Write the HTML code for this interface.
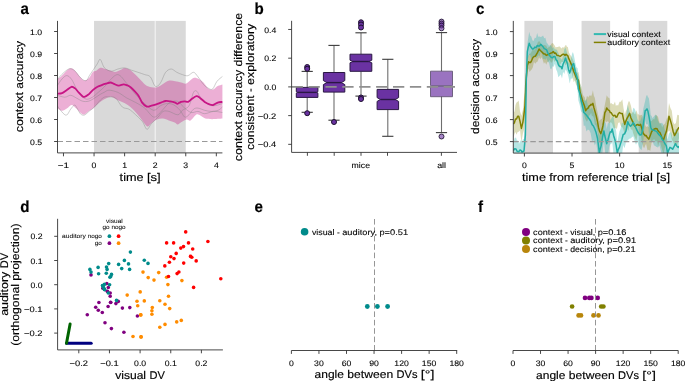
<!DOCTYPE html>
<html><head><meta charset="utf-8"><style>
html,body{margin:0;padding:0;background:#fff;width:685px;height:381px;overflow:hidden}
svg{display:block;will-change:transform}
text{font-family:"Liberation Sans", sans-serif;text-rendering:geometricPrecision;stroke:#000;stroke-width:0.15px}
</style></head><body>
<svg width="685" height="381" viewBox="0 0 685 381">
<rect x="94.05" y="20.9" width="91.71" height="132" fill="#d9d9d9"/>
<line x1="155.19" y1="20.9" x2="155.19" y2="152.9" stroke="#f6f6f6" stroke-width="1.0"/>
<path d="M57.4,79 C58.18,78.4 60.33,76.98 62.1,75.4 C63.87,73.82 66.43,70.68 68,69.5 C69.57,68.32 70.32,68.1 71.5,68.3 C72.68,68.5 73.53,69.12 75.1,70.7 C76.67,72.28 79.33,76.15 80.9,77.8 C82.47,79.45 83.12,80.6 84.5,80.6 C85.88,80.6 87.82,79.25 89.2,77.8 C90.58,76.35 91.62,73.08 92.8,71.9 C93.98,70.72 95.12,71.37 96.3,70.7 C97.48,70.03 98.52,68.22 99.9,67.9 C101.28,67.58 103.03,68.42 104.6,68.8 C106.17,69.18 107.53,69.68 109.3,70.2 C111.07,70.72 113.43,71.9 115.2,71.9 C116.97,71.9 118.32,70.87 119.9,70.2 C121.48,69.53 122.92,67.9 124.7,67.9 C126.48,67.9 128.88,69.13 130.6,70.2 C132.32,71.27 133.48,72.83 135,74.3 C136.52,75.77 137.93,77.23 139.7,79 C141.47,80.77 143.63,83.53 145.6,84.9 C147.57,86.27 149.53,86.82 151.5,87.2 C153.47,87.58 155.43,87.78 157.4,87.2 C159.37,86.62 161.32,84.8 163.3,83.7 C165.28,82.6 167.32,81 169.3,80.6 C171.28,80.2 173.23,80.98 175.2,81.3 C177.17,81.62 179.33,82.1 181.1,82.5 C182.87,82.9 184.43,83.9 185.8,83.7 C187.17,83.5 187.92,82.28 189.3,81.3 C190.68,80.32 192.52,78.18 194.1,77.8 C195.68,77.42 197.23,78.22 198.8,79 C200.37,79.78 201.93,80.93 203.5,82.5 C205.07,84.07 206.62,87.22 208.2,88.4 C209.78,89.58 211.42,89.98 213,89.6 C214.58,89.22 216.13,86.97 217.7,86.1 C219.27,85.23 221.62,84.68 222.4,84.4 L222.4,118.6 C220.7,118.7 215.05,119.2 212.2,119.2 C209.35,119.2 207.27,119.2 205.3,118.6 C203.33,118 201.88,116.27 200.4,115.6 C198.92,114.93 198.05,113.78 196.4,114.6 C194.75,115.42 192.13,119.67 190.5,120.5 C188.87,121.33 188.23,119.27 186.6,119.6 C184.97,119.93 182.18,121.68 180.7,122.5 C179.22,123.32 178.7,124.5 177.7,124.5 C176.7,124.5 176.18,123.17 174.7,122.5 C173.22,121.83 170.77,121.15 168.8,120.5 C166.83,119.85 164.87,118.75 162.9,118.6 C160.93,118.45 158.97,118.78 157,119.6 C155.03,120.42 152.58,122.35 151.1,123.5 C149.62,124.65 149.08,126.33 148.1,126.5 C147.12,126.67 146.67,126.15 145.2,124.5 C143.73,122.85 141.27,119.07 139.3,116.6 C137.33,114.13 135.38,111.67 133.4,109.7 C131.42,107.73 129.38,106.12 127.4,104.8 C125.42,103.48 123.47,102.78 121.5,101.8 C119.53,100.82 117.57,99.72 115.6,98.9 C113.63,98.08 112,96.58 109.7,96.9 C107.4,97.22 104.43,99 101.8,100.8 C99.17,102.6 96,106.03 93.9,107.7 C91.8,109.37 90.77,109.68 89.2,110.8 C87.63,111.92 85.87,114 84.5,114.4 C83.13,114.8 82.37,114.18 81,113.2 C79.63,112.22 77.88,109.88 76.3,108.5 C74.72,107.12 73.08,104.9 71.5,104.9 C69.92,104.9 68.37,107.52 66.8,108.5 C65.23,109.48 63.67,110.8 62.1,110.8 C60.53,110.8 58.18,108.88 57.4,108.5 Z" fill="#c71585" fill-opacity="0.34"/>
<path d="M57.4,80 C57.65,79.6 57.67,78.98 58.9,77.6 C60.13,76.22 62.98,73.18 64.8,71.7 C66.62,70.22 68.15,68.87 69.8,68.7 C71.45,68.53 73.23,69.55 74.7,70.7 C76.17,71.85 77.28,74.13 78.6,75.6 C79.92,77.07 81.28,78.68 82.6,79.5 C83.92,80.32 85.37,81.15 86.5,80.5 C87.63,79.85 88.25,77.4 89.4,75.6 C90.55,73.8 92.08,71.67 93.4,69.7 C94.72,67.73 96.15,65.5 97.3,63.8 C98.45,62.1 99.1,58.82 100.3,59.5 C101.5,60.18 102.68,65.95 104.5,67.9 C106.32,69.85 108.97,71.02 111.2,71.2 C113.43,71.38 115.67,69.55 117.9,69 C120.13,68.45 122.37,67.72 124.6,67.9 C126.83,68.08 129.07,69.37 131.3,70.1 C133.53,70.83 135.77,71.55 138,72.3 C140.23,73.05 142.65,73.85 144.7,74.6 C146.75,75.35 148.63,74.95 150.3,76.8 C151.97,78.65 153.4,84.22 154.7,85.7 C156,87.18 156.98,86.43 158.1,85.7 C159.22,84.97 160.15,83.53 161.4,81.3 C162.65,79.07 163.97,74.35 165.6,72.3 C167.23,70.25 169.33,69 171.2,69 C173.07,69 174.95,71.37 176.8,72.3 C178.65,73.23 180.45,74.03 182.3,74.6 C184.15,75.17 186.03,76.08 187.9,75.7 C189.77,75.32 191.82,72.12 193.5,72.3 C195.18,72.48 196.32,74.75 198,76.8 C199.68,78.85 201.93,82.73 203.6,84.6 C205.27,86.47 206.52,87.25 208,88 C209.48,88.75 211,90.22 212.5,89.1 C214,87.98 215.35,83.4 217,81.3 C218.65,79.2 221.5,77.3 222.4,76.5" fill="none" stroke="#808080" stroke-width="0.75" stroke-linejoin="round" stroke-opacity="0.5"/>
<path d="M57.4,106 C58.32,107.17 61.33,111.5 62.9,113 C64.47,114.5 65.5,115.65 66.8,115 C68.1,114.35 69.38,110.75 70.7,109.1 C72.02,107.45 73.55,105.1 74.7,105.1 C75.85,105.1 76.62,107.62 77.6,109.1 C78.58,110.58 79.45,113.02 80.6,114 C81.75,114.98 83.03,115.5 84.5,115 C85.97,114.5 87.75,112.32 89.4,111 C91.05,109.68 92.75,108.73 94.4,107.1 C96.05,105.47 97.67,102.85 99.3,101.2 C100.93,99.55 102.6,97.92 104.2,97.2 C105.8,96.48 107,96.77 108.9,96.9 C110.8,97.03 113.37,96.32 115.6,98 C117.83,99.68 120.07,105.13 122.3,107 C124.53,108.87 126.77,107.9 129,109.2 C131.23,110.5 133.47,112.75 135.7,114.8 C137.93,116.85 140.53,119.08 142.4,121.5 C144.27,123.92 145.4,128.93 146.9,129.3 C148.4,129.67 149.53,125.75 151.4,123.7 C153.27,121.65 156.17,119.03 158.1,117 C160.03,114.97 161.2,112.43 163,111.5 C164.8,110.57 166.42,110.85 168.9,111.4 C171.38,111.95 175.67,114.98 177.9,114.8 C180.13,114.62 180.45,111.8 182.3,110.3 C184.15,108.8 187.13,108.78 189,105.8 C190.87,102.82 192.18,94.82 193.5,92.4 C194.82,89.98 195.78,90.55 196.9,91.3 C198.02,92.05 198.53,94.85 200.2,96.9 C201.87,98.95 204.67,102.12 206.9,103.6 C209.13,105.08 211.02,105.8 213.6,105.8 C216.18,105.8 220.93,103.97 222.4,103.6" fill="none" stroke="#808080" stroke-width="0.75" stroke-linejoin="round" stroke-opacity="0.5"/>
<path d="M57.4,85.4 C58.17,84.33 60.43,80.63 62,79 C63.57,77.37 65.18,75.52 66.8,75.6 C68.42,75.68 70.05,77.2 71.7,79.5 C73.35,81.8 75.22,86.77 76.7,89.4 C78.18,92.03 78.97,93.67 80.6,95.3 C82.23,96.93 84.53,98.88 86.5,99.2 C88.47,99.52 90.43,98.35 92.4,97.2 C94.37,96.05 96.33,94 98.3,92.3 C100.27,90.6 102.43,88.83 104.2,87 C105.97,85.17 106.62,83.37 108.9,81.3 C111.18,79.23 114.92,74.23 117.9,74.6 C120.88,74.97 123.83,80.15 126.8,83.5 C129.77,86.85 132.72,91.35 135.7,94.7 C138.68,98.05 141.72,101 144.7,103.6 C147.68,106.2 151,109.93 153.6,110.3 C156.2,110.67 158.12,106.92 160.3,105.8 C162.48,104.68 164.52,103.78 166.7,103.6 C168.88,103.42 171.17,103.58 173.4,104.7 C175.63,105.82 178.23,108.25 180.1,110.3 C181.97,112.35 183.12,116.25 184.6,117 C186.08,117.75 187.52,116.1 189,114.8 C190.48,113.5 192,110.32 193.5,109.2 C195,108.08 196.13,107.92 198,108.1 C199.87,108.28 202.47,109.75 204.7,110.3 C206.93,110.85 209.17,111.4 211.4,111.4 C213.63,111.4 216.27,111.03 218.1,110.3 C219.93,109.57 221.68,107.55 222.4,107" fill="none" stroke="#808080" stroke-width="0.75" stroke-linejoin="round" stroke-opacity="0.5"/>
<path d="M57.4,95.3 C58.63,95.62 62.58,97.2 64.8,97.2 C67.02,97.2 68.72,95.13 70.7,95.3 C72.68,95.47 74.72,97.22 76.7,98.2 C78.68,99.18 80.63,100.7 82.6,101.2 C84.57,101.7 86.53,101.7 88.5,101.2 C90.47,100.7 92.43,99.35 94.4,98.2 C96.37,97.05 98.67,95.28 100.3,94.3 C101.93,93.32 102.77,92.98 104.2,92.3 C105.63,91.62 106.62,90.18 108.9,90.2 C111.18,90.22 114.92,91.1 117.9,92.4 C120.88,93.7 123.83,96.32 126.8,98 C129.77,99.68 132.72,100.82 135.7,102.5 C138.68,104.18 141.72,105.68 144.7,108.1 C147.68,110.52 151,116.27 153.6,117 C156.2,117.73 158.23,114.33 160.3,112.5 C162.37,110.67 164.22,107.75 166,106 C167.78,104.25 169.02,102.77 171,102 C172.98,101.23 175.63,100.38 177.9,101.4 C180.17,102.42 182.37,106.25 184.6,108.1 C186.83,109.95 189.07,111.95 191.3,112.5 C193.53,113.05 195.77,111.2 198,111.4 C200.23,111.6 202.1,113.7 204.7,113.7 C207.3,113.7 210.65,111.6 213.6,111.4 C216.55,111.2 220.93,112.32 222.4,112.5" fill="none" stroke="#808080" stroke-width="0.75" stroke-linejoin="round" stroke-opacity="0.5"/>
<path d="M57.4,93.8 C58.18,93.68 60.53,93.72 62.1,93.1 C63.67,92.48 65.23,91.15 66.8,90.1 C68.37,89.05 70.12,87.08 71.5,86.8 C72.88,86.52 73.92,87.47 75.1,88.4 C76.28,89.33 77.42,91.13 78.6,92.4 C79.78,93.67 81.22,95.25 82.2,96 C83.18,96.75 83.52,97.1 84.5,96.9 C85.48,96.7 86.72,95.93 88.1,94.8 C89.48,93.67 91.23,91.43 92.8,90.1 C94.37,88.77 95.93,87.67 97.5,86.8 C99.07,85.93 100.82,85.42 102.2,84.9 C103.58,84.38 104.42,84.1 105.8,83.7 C107.18,83.3 109.13,82.47 110.5,82.5 C111.87,82.53 112.62,83.38 114,83.9 C115.38,84.42 117.22,85.52 118.8,85.6 C120.38,85.68 122.13,84.45 123.5,84.4 C124.87,84.35 125.82,84.83 127,85.3 C128.18,85.77 129.22,86.1 130.6,87.2 C131.98,88.3 133.93,90.4 135.3,91.9 C136.67,93.4 137.67,94.42 138.8,96.2 C139.93,97.98 140.77,100.87 142.1,102.6 C143.43,104.33 145.23,106.08 146.8,106.6 C148.37,107.12 149.92,106.08 151.5,105.7 C153.08,105.32 154.72,104.82 156.3,104.3 C157.88,103.78 159.43,103.15 161,102.6 C162.57,102.05 164.13,101.2 165.7,101 C167.27,100.8 168.82,101.13 170.4,101.4 C171.98,101.67 174.02,102.2 175.2,102.6 C176.38,103 176.52,103.92 177.5,103.8 C178.48,103.68 179.92,102.3 181.1,101.9 C182.28,101.5 183.42,101.4 184.6,101.4 C185.78,101.4 187.02,102.28 188.2,101.9 C189.38,101.52 190.33,100.05 191.7,99.1 C193.07,98.15 195.02,96.4 196.4,96.2 C197.78,96 198.62,96.95 200,97.9 C201.38,98.85 203.13,100.83 204.7,101.9 C206.27,102.97 208.02,103.78 209.4,104.3 C210.78,104.82 211.62,105.28 213,105 C214.38,104.72 216.13,103.12 217.7,102.6 C219.27,102.08 221.62,102.02 222.4,101.9" fill="none" stroke="#c71585" stroke-width="1.8" stroke-linejoin="round"/>
<line x1="57.5" y1="141.5" x2="222.4" y2="141.5" stroke="#999999" stroke-width="1.2" stroke-dasharray="5.5 3"/>
<line x1="57.5" y1="20.9" x2="57.5" y2="152.9" stroke="#333333" stroke-width="0.9"/>
<line x1="57.5" y1="152.9" x2="222.4" y2="152.9" stroke="#333333" stroke-width="0.9"/>
<line x1="54.1" y1="141.5" x2="57.5" y2="141.5" stroke="#333333" stroke-width="0.9"/>
<text x="30.11" y="144.55" font-size="7.98" textLength="12.09" lengthAdjust="spacingAndGlyphs" fill="#000" style="stroke-width:0.1px">0.5</text>
<line x1="54.1" y1="119.5" x2="57.5" y2="119.5" stroke="#333333" stroke-width="0.9"/>
<text x="30.11" y="122.55" font-size="7.98" textLength="12.09" lengthAdjust="spacingAndGlyphs" fill="#000" style="stroke-width:0.1px">0.6</text>
<line x1="54.1" y1="97.5" x2="57.5" y2="97.5" stroke="#333333" stroke-width="0.9"/>
<text x="30.11" y="100.55" font-size="7.98" textLength="12.09" lengthAdjust="spacingAndGlyphs" fill="#000" style="stroke-width:0.1px">0.7</text>
<line x1="54.1" y1="75.5" x2="57.5" y2="75.5" stroke="#333333" stroke-width="0.9"/>
<text x="30.11" y="78.55" font-size="7.98" textLength="12.09" lengthAdjust="spacingAndGlyphs" fill="#000" style="stroke-width:0.1px">0.8</text>
<line x1="54.1" y1="53.5" x2="57.5" y2="53.5" stroke="#333333" stroke-width="0.9"/>
<text x="30.11" y="56.55" font-size="7.98" textLength="12.09" lengthAdjust="spacingAndGlyphs" fill="#000" style="stroke-width:0.1px">0.9</text>
<line x1="54.1" y1="31.5" x2="57.5" y2="31.5" stroke="#333333" stroke-width="0.9"/>
<text x="30.11" y="34.55" font-size="7.98" textLength="12.09" lengthAdjust="spacingAndGlyphs" fill="#000" style="stroke-width:0.1px">1.0</text>
<line x1="63.48" y1="152.9" x2="63.48" y2="156.3" stroke="#333333" stroke-width="0.9"/>
<text x="57.88" y="167.9" font-size="7.98" textLength="11.2" lengthAdjust="spacingAndGlyphs" fill="#000" style="stroke-width:0.1px">−1</text>
<line x1="94.05" y1="152.9" x2="94.05" y2="156.3" stroke="#333333" stroke-width="0.9"/>
<text x="91.63" y="167.9" font-size="7.98" textLength="4.84" lengthAdjust="spacingAndGlyphs" fill="#000" style="stroke-width:0.1px">0</text>
<line x1="124.62" y1="152.9" x2="124.62" y2="156.3" stroke="#333333" stroke-width="0.9"/>
<text x="122.2" y="167.9" font-size="7.98" textLength="4.84" lengthAdjust="spacingAndGlyphs" fill="#000" style="stroke-width:0.1px">1</text>
<line x1="155.19" y1="152.9" x2="155.19" y2="156.3" stroke="#333333" stroke-width="0.9"/>
<text x="152.77" y="167.9" font-size="7.98" textLength="4.84" lengthAdjust="spacingAndGlyphs" fill="#000" style="stroke-width:0.1px">2</text>
<line x1="185.76" y1="152.9" x2="185.76" y2="156.3" stroke="#333333" stroke-width="0.9"/>
<text x="183.34" y="167.9" font-size="7.98" textLength="4.84" lengthAdjust="spacingAndGlyphs" fill="#000" style="stroke-width:0.1px">3</text>
<line x1="216.33" y1="152.9" x2="216.33" y2="156.3" stroke="#333333" stroke-width="0.9"/>
<text x="213.91" y="167.9" font-size="7.98" textLength="4.84" lengthAdjust="spacingAndGlyphs" fill="#000" style="stroke-width:0.1px">4</text>
<text x="119.64" y="180.7" font-size="11.13" textLength="23.95" lengthAdjust="spacingAndGlyphs" fill="#000">time</text>
<text x="146.96" y="180.7" font-size="11.13" textLength="13.79" lengthAdjust="spacingAndGlyphs" fill="#000">[s]</text>
<g transform="translate(23.4,86.6) rotate(-90)">
<text x="-45.67" y="0" font-size="11.13" textLength="40.14" lengthAdjust="spacingAndGlyphs">context</text>
<text x="-2.16" y="0" font-size="11.13" textLength="47.82" lengthAdjust="spacingAndGlyphs">accuracy</text>
</g>
<text transform="translate(20.4,13.6) scale(1,1.06)" font-size="15.12" font-weight="bold" stroke="#000" stroke-width="0.3">a</text>
<line x1="307.2" y1="71.4" x2="307.2" y2="87.4" stroke="#6e6e6e" stroke-width="1.1"/>
<line x1="307.2" y1="97.4" x2="307.2" y2="112.3" stroke="#6e6e6e" stroke-width="1.1"/>
<line x1="301.6" y1="71.4" x2="312.8" y2="71.4" stroke="#3a3a3a" stroke-width="1.1"/>
<line x1="301.6" y1="112.3" x2="312.8" y2="112.3" stroke="#3a3a3a" stroke-width="1.1"/>
<g>
<polygon points="296.3,87.4 317.9,87.4 317.9,91.7 316.7,92.4 317.9,93.1 317.9,97.4 296.3,97.4 296.3,93.1 297.5,92.4 296.3,91.7" fill="#6a32a2" stroke="#2a1744" stroke-width="1" stroke-linejoin="miter"/>
<line x1="297.5" y1="92.4" x2="316.7" y2="92.4" stroke="#2a1744" stroke-width="1.4"/>
</g>
<circle cx="307.2" cy="67" r="2.5" fill="#6a32a2" stroke="#1c0f2e" stroke-width="1.0"/>
<circle cx="307.2" cy="68.8" r="2.5" fill="#6a32a2" stroke="#1c0f2e" stroke-width="1.0"/>
<circle cx="307.2" cy="113.2" r="2.5" fill="#6a32a2" stroke="#1c0f2e" stroke-width="1.0"/>
<line x1="334" y1="45.4" x2="334" y2="72.5" stroke="#6e6e6e" stroke-width="1.1"/>
<line x1="334" y1="92.1" x2="334" y2="120.2" stroke="#6e6e6e" stroke-width="1.1"/>
<line x1="328.4" y1="45.4" x2="339.6" y2="45.4" stroke="#3a3a3a" stroke-width="1.1"/>
<line x1="328.4" y1="120.2" x2="339.6" y2="120.2" stroke="#3a3a3a" stroke-width="1.1"/>
<g>
<polygon points="323.4,72.5 344.8,72.5 344.8,80.6 341.3,82.6 344.8,84.6 344.8,92.1 323.4,92.1 323.4,84.6 326.9,82.6 323.4,80.6" fill="#6a32a2" stroke="#2a1744" stroke-width="1" stroke-linejoin="miter"/>
<line x1="326.9" y1="82.6" x2="341.3" y2="82.6" stroke="#2a1744" stroke-width="1.4"/>
</g>
<circle cx="334" cy="122" r="2.5" fill="#6a32a2" stroke="#1c0f2e" stroke-width="1.0"/>
<line x1="361" y1="32.8" x2="361" y2="54.2" stroke="#6e6e6e" stroke-width="1.1"/>
<line x1="361" y1="71.3" x2="361" y2="96.1" stroke="#6e6e6e" stroke-width="1.1"/>
<line x1="355.4" y1="32.8" x2="366.6" y2="32.8" stroke="#3a3a3a" stroke-width="1.1"/>
<line x1="355.4" y1="96.1" x2="366.6" y2="96.1" stroke="#3a3a3a" stroke-width="1.1"/>
<g>
<polygon points="350,54.2 371.8,54.2 371.8,60.2 368.8,61.5 371.8,62.8 371.8,71.3 350,71.3 350,62.8 353,61.5 350,60.2" fill="#6a32a2" stroke="#2a1744" stroke-width="1" stroke-linejoin="miter"/>
<line x1="353" y1="61.5" x2="368.8" y2="61.5" stroke="#2a1744" stroke-width="1.4"/>
</g>
<circle cx="361" cy="22.3" r="2.5" fill="#6a32a2" stroke="#1c0f2e" stroke-width="1.0"/>
<circle cx="361" cy="24.5" r="2.5" fill="#6a32a2" stroke="#1c0f2e" stroke-width="1.0"/>
<circle cx="361" cy="27.5" r="2.5" fill="#6a32a2" stroke="#1c0f2e" stroke-width="1.0"/>
<circle cx="361" cy="97.5" r="2.5" fill="#6a32a2" stroke="#1c0f2e" stroke-width="1.0"/>
<circle cx="361" cy="99" r="2.5" fill="#6a32a2" stroke="#1c0f2e" stroke-width="1.0"/>
<line x1="387.8" y1="59.3" x2="387.8" y2="89.4" stroke="#6e6e6e" stroke-width="1.1"/>
<line x1="387.8" y1="109.6" x2="387.8" y2="136.3" stroke="#6e6e6e" stroke-width="1.1"/>
<line x1="382.2" y1="59.3" x2="393.4" y2="59.3" stroke="#3a3a3a" stroke-width="1.1"/>
<line x1="382.2" y1="136.3" x2="393.4" y2="136.3" stroke="#3a3a3a" stroke-width="1.1"/>
<g>
<polygon points="377.1,89.4 398.6,89.4 398.6,97.6 395.2,99.5 398.6,101.4 398.6,109.6 377.1,109.6 377.1,101.4 380.5,99.5 377.1,97.6" fill="#6a32a2" stroke="#2a1744" stroke-width="1" stroke-linejoin="miter"/>
<line x1="380.5" y1="99.5" x2="395.2" y2="99.5" stroke="#2a1744" stroke-width="1.4"/>
</g>
<line x1="441.5" y1="32.6" x2="441.5" y2="71.2" stroke="#6e6e6e" stroke-width="1.1"/>
<line x1="441.5" y1="96.7" x2="441.5" y2="132.6" stroke="#6e6e6e" stroke-width="1.1"/>
<line x1="435.9" y1="32.6" x2="447.1" y2="32.6" stroke="#3a3a3a" stroke-width="1.1"/>
<line x1="435.9" y1="132.6" x2="447.1" y2="132.6" stroke="#3a3a3a" stroke-width="1.1"/>
<g opacity="0.68">
<polygon points="430.5,71.2 452.5,71.2 452.5,85.5 451.7,86 452.5,86.5 452.5,96.7 430.5,96.7 430.5,86.5 431.3,86 430.5,85.5" fill="#6a32a2" stroke="#2a1744" stroke-width="1" stroke-linejoin="miter"/>
<line x1="431.3" y1="86" x2="451.7" y2="86" stroke="#2a1744" stroke-width="1.4"/>
</g>
<circle cx="441.5" cy="21.6" r="2.5" fill="#6a32a2" stroke="#1c0f2e" stroke-width="1.0" fill-opacity="0.6" stroke-opacity="0.85"/>
<circle cx="441.5" cy="23.5" r="2.5" fill="#6a32a2" stroke="#1c0f2e" stroke-width="1.0" fill-opacity="0.6" stroke-opacity="0.85"/>
<circle cx="441.5" cy="25.5" r="2.5" fill="#6a32a2" stroke="#1c0f2e" stroke-width="1.0" fill-opacity="0.6" stroke-opacity="0.85"/>
<circle cx="441.5" cy="28.3" r="2.5" fill="#6a32a2" stroke="#1c0f2e" stroke-width="1.0" fill-opacity="0.6" stroke-opacity="0.85"/>
<circle cx="441.5" cy="136.5" r="2.5" fill="#6a32a2" stroke="#1c0f2e" stroke-width="1.0" fill-opacity="0.6" stroke-opacity="0.85"/>
<line x1="291.6" y1="86.9" x2="457" y2="86.9" stroke="#8f8f8f" stroke-width="1.8" stroke-dasharray="11.3 5.6"/>
<line x1="291.6" y1="20.8" x2="291.6" y2="152.4" stroke="#333333" stroke-width="0.9"/>
<line x1="291.6" y1="152.4" x2="457" y2="152.4" stroke="#333333" stroke-width="0.9"/>
<line x1="288.2" y1="29.46" x2="291.6" y2="29.46" stroke="#333333" stroke-width="0.9"/>
<text x="264.21" y="32.51" font-size="7.98" textLength="12.09" lengthAdjust="spacingAndGlyphs" fill="#000" style="stroke-width:0.1px">0.4</text>
<line x1="288.2" y1="58.18" x2="291.6" y2="58.18" stroke="#333333" stroke-width="0.9"/>
<text x="264.21" y="61.23" font-size="7.98" textLength="12.09" lengthAdjust="spacingAndGlyphs" fill="#000" style="stroke-width:0.1px">0.2</text>
<line x1="288.2" y1="86.9" x2="291.6" y2="86.9" stroke="#333333" stroke-width="0.9"/>
<text x="264.21" y="89.95" font-size="7.98" textLength="12.09" lengthAdjust="spacingAndGlyphs" fill="#000" style="stroke-width:0.1px">0.0</text>
<line x1="288.2" y1="115.62" x2="291.6" y2="115.62" stroke="#333333" stroke-width="0.9"/>
<text x="257.85" y="118.67" font-size="7.98" textLength="18.45" lengthAdjust="spacingAndGlyphs" fill="#000" style="stroke-width:0.1px">−0.2</text>
<line x1="288.2" y1="144.34" x2="291.6" y2="144.34" stroke="#333333" stroke-width="0.9"/>
<text x="257.85" y="147.39" font-size="7.98" textLength="18.45" lengthAdjust="spacingAndGlyphs" fill="#000" style="stroke-width:0.1px">−0.4</text>
<line x1="307.4" y1="152.4" x2="307.4" y2="155.8" stroke="#333333" stroke-width="0.9"/>
<line x1="334.2" y1="152.4" x2="334.2" y2="155.8" stroke="#333333" stroke-width="0.9"/>
<line x1="361" y1="152.4" x2="361" y2="155.8" stroke="#333333" stroke-width="0.9"/>
<line x1="387.5" y1="152.4" x2="387.5" y2="155.8" stroke="#333333" stroke-width="0.9"/>
<line x1="441.4" y1="152.4" x2="441.4" y2="155.8" stroke="#333333" stroke-width="0.9"/>
<text x="351.62" y="168.3" font-size="7.98" textLength="18.37" lengthAdjust="spacingAndGlyphs" fill="#000" style="stroke-width:0.1px">mice</text>
<text x="437.16" y="168.3" font-size="7.98" textLength="8.88" lengthAdjust="spacingAndGlyphs" fill="#000" style="stroke-width:0.1px">all</text>
<g transform="translate(242.3,87.05) rotate(-90)">
<text x="-74.15" y="0" font-size="11.13" textLength="40.14" lengthAdjust="spacingAndGlyphs">context</text>
<text x="-30.65" y="0" font-size="11.13" textLength="47.82" lengthAdjust="spacingAndGlyphs">accuracy</text>
<text x="20.55" y="0" font-size="11.13" textLength="53.61" lengthAdjust="spacingAndGlyphs">difference</text>
</g>
<g transform="translate(253.6,86.9) rotate(-90)">
<text x="-63.11" y="0" font-size="11.13" textLength="54.57" lengthAdjust="spacingAndGlyphs">consistent</text>
<text x="-5.17" y="0" font-size="11.13" textLength="3.82" lengthAdjust="spacingAndGlyphs">-</text>
<text x="2.03" y="0" font-size="11.13" textLength="61.08" lengthAdjust="spacingAndGlyphs">exploratory</text>
</g>
<text transform="translate(254.6,13.7) scale(1,1.06)" font-size="15.12" font-weight="bold" stroke="#000" stroke-width="0.3">b</text>
<rect x="524.4" y="20.9" width="28.58" height="132.2" fill="#d9d9d9"/>
<rect x="581.56" y="20.9" width="28.58" height="132.2" fill="#d9d9d9"/>
<rect x="638.72" y="20.9" width="28.58" height="132.2" fill="#d9d9d9"/>
<clipPath id="cclip"><rect x="513.3" y="20.9" width="165.7" height="132.2"/></clipPath>
<g clip-path="url(#cclip)">
<polygon points="513.4,110.94 514.45,112.02 515.5,105.03 516.57,102.5 517.63,101.82 518.7,100.57 520.05,111.46 521.4,115.7 522.9,109.7 523.95,98.15 525,92.38 525.7,75.6 527.3,58.23 528.6,55.59 529.55,53.69 530.5,53.42 531.65,51.59 532.8,48.83 534,50.66 535.2,48.55 536.4,47.39 537.6,42.45 539.1,40.92 540.3,42.43 541.5,45.15 542.7,45.9 543.9,44.83 545.05,45.29 546.2,45.57 547.4,48.36 548.6,47.31 549.75,46.77 550.9,44.62 552.1,42.88 553.3,43.51 554.5,45.21 555.7,47.49 556.85,47.12 558,47.1 559.2,46.36 560.4,47.33 561.6,48.58 562.8,46.9 563.95,47.84 565.1,45.67 566,44.79 566.9,46.72 567.9,47.04 568.9,52.45 570.1,54.83 571.3,56.16 572.5,58.95 573.7,61.41 574.85,66.95 576,69.41 577.2,73.29 578.4,71.75 579.25,76.12 580.1,83.13 581.45,86.73 582.8,94.49 583.73,96.25 584.67,96.9 585.6,101.43 586.95,95.75 588.3,97.59 589.23,95.73 590.17,95.33 591.1,96.28 592,94.21 592.9,90.19 593.85,95.65 594.8,97.7 596.15,105.42 597.5,112.3 598.45,116.55 599.4,120.91 600.8,119.18 601.9,118.67 603,114.25 603.95,109.26 604.9,104.56 605.8,100.12 606.7,95.18 608.05,97.46 609.4,98.01 610.33,103.69 611.27,102.96 612.2,104.12 613.6,104.58 615,101.51 615.9,105.88 616.8,105.11 618.15,105.46 619.5,101.68 620.9,101.82 622.3,99.18 623.5,108.06 624.7,114.65 625.75,111.2 626.8,109.59 627.73,103.94 628.67,101.33 629.6,101.57 630.95,105.69 632.3,112.73 633.23,111.79 634.17,113.39 635.1,114.59 636.45,110.32 637.8,114.43 638.73,114.37 639.67,115.51 640.6,115.13 641.95,114.69 643.3,121.35 644.23,120.89 645.17,124.97 646.1,127.12 647.5,126.13 648.9,127.25 650.25,120.6 651.6,121.21 653,118.94 654.4,119.62 655.75,114.52 657.1,115.99 658,116.51 658.9,120.66 659.85,123.61 660.8,123.3 662.15,127.62 663.5,124.82 664.9,123.66 666.3,119.79 667.65,116.48 669,103.11 670.4,107.91 671.8,110.66 673.15,121.99 674.5,124.26 675.9,123.01 677.3,114.66 678.15,115.08 679,115.19 679,138.34 678.15,141.09 677.3,146.15 675.9,143.61 674.5,145.81 673.15,141.85 671.8,139.46 670.4,132.51 669,130.42 667.65,132.53 666.3,144.28 664.9,147.53 663.5,153.82 662.15,149.64 660.8,145.33 659.85,140.4 658.9,143.39 658,146.19 657.1,140.99 655.75,141.72 654.4,139.3 653,139.71 651.6,142.66 650.25,151.06 648.9,149.78 647.5,150.41 646.1,143.73 645.17,145.56 644.23,148.16 643.3,147.04 641.95,141.98 640.6,133.77 639.67,136.01 638.73,135.96 637.8,133.39 636.45,140.87 635.1,137.97 634.17,135.82 633.23,133.56 632.3,129.67 630.95,129.49 629.6,125.19 628.67,130.48 627.73,130.34 626.8,127.28 625.75,132.16 624.7,135.03 623.5,129.8 622.3,127.35 620.9,126.16 619.5,122.25 618.15,123.12 616.8,129.41 615.9,127.47 615,128.61 613.6,128.25 612.2,123.7 611.27,122.45 610.33,122.31 609.4,123.71 608.05,121.19 606.7,121.8 605.8,122.51 604.9,119.72 603.95,129.26 603,137.59 601.9,141.72 600.8,146.61 599.4,141.75 598.45,138.28 597.5,130.25 596.15,125.86 594.8,124.4 593.85,118.1 592.9,115.8 592,116.51 591.1,112.75 590.17,114.85 589.23,115.56 588.3,119.11 586.95,121.8 585.6,119.42 584.67,117.06 583.73,112.16 582.8,107.93 581.45,107.47 580.1,102.07 579.25,95.81 578.4,87.96 577.2,86.18 576,84.61 574.85,80.36 573.7,82.28 572.5,76.45 571.3,71.82 570.1,68.68 568.9,65.67 567.9,63.96 566.9,63.06 566,64.47 565.1,65.46 563.95,60.19 562.8,62.01 561.6,62.09 560.4,64.2 559.2,65.69 558,64.31 556.85,62.63 555.7,58.67 554.5,62.33 553.3,58.88 552.1,62.47 550.9,62.41 549.75,60.07 548.6,61.5 547.4,61.98 546.2,64.87 545.05,61.88 543.9,63.79 542.7,59.83 541.5,57.3 540.3,59.31 539.1,57.38 537.6,61.5 536.4,62.26 535.2,63.69 534,62.04 532.8,67.59 531.65,69.48 530.5,70.73 529.55,71.89 528.6,68.36 527.3,72.51 525.7,94.98 525,119.47 523.95,129.95 522.9,133.56 521.4,142.36 520.05,130.58 518.7,131.83 517.63,131.88 516.57,134.84 515.5,131.92 514.45,134.04 513.4,137.99" fill="#808000" fill-opacity="0.28"/>
<polygon points="513.4,142.42 514.7,137.97 516,137.38 517,140.64 518,140.48 519,143.77 520,141.81 521,140 522,142.22 523,139.09 524,139.36 525.4,126.32 526.3,70.93 527.3,44.35 528.25,37.88 529.2,31.69 530.25,35.75 531.3,36.45 532.45,40.54 533.6,41.11 534.8,37.67 536,38.01 537.15,33.1 538.3,36.65 539.5,36.62 540.7,36.94 541.9,36.4 543.1,35.61 544.25,38.13 545.4,37.65 546.6,42.4 547.8,44.11 549,45.96 550.2,44.91 551.35,45.87 552.5,48.38 553.7,46.91 554.9,49.56 556.05,49.37 557.2,50.52 558.4,52.96 559.6,56.27 560.8,58.57 562,59.66 563.15,55.5 564.3,49.28 565.5,47.54 566.45,50.67 567.4,53.67 568.55,62.55 569.7,62.95 570.9,59.12 572.1,53.86 572.9,51.92 573.7,54.52 575.2,62.15 576.4,67.36 577.6,68.3 578.3,76.03 579.65,82.01 581,87.99 582.4,97.19 583.8,100.13 585.15,100.97 586.5,99.07 587.9,105.61 589.3,106.38 590.65,109.56 592,107.31 593.4,111.03 594.8,114.02 596.15,122.6 597.5,124.31 598.45,132.43 599.4,136.12 600.3,131.18 601.2,132.21 602.55,123.2 603.9,120.77 604.83,122.34 605.77,123.12 606.7,128.88 608.05,122.54 609.4,123.72 610.33,119.82 611.27,118.85 612.2,116.52 613.6,117.31 615,126.33 616.15,131.08 617.3,142.43 618.37,137.04 619.43,131.51 620.5,128.97 621.85,122.4 623.2,123.46 624.6,120.63 626,118.75 626.9,109.3 627.8,104.63 629.15,110.5 630.5,113.48 631.9,113.63 633.3,107.68 634.65,108.83 636,112.33 637.4,119.2 638.8,121.6 640.15,121.18 641.5,117.67 642.4,115.81 643.3,108.68 644.25,104.72 645.2,100.75 646.1,96.59 647,94.73 647.95,97.01 648.9,98.22 649.8,105.49 650.7,115.06 651.6,116.03 652.5,118.35 653.9,116.49 655.3,114.74 656.65,115.56 658,120.69 659.4,123.48 660.8,123.14 662.15,122.85 663.5,125.19 664.9,130.37 666.3,134.53 667.6,139.79 668.8,133.77 670,131.99 671.35,132.78 672.7,138.58 674.1,133.21 675.5,129.45 676.85,128.8 678.2,133.85 679,131.63 679,160.65 678.2,159.71 676.85,164.29 675.5,158.66 674.1,158.46 672.7,160.76 671.35,163.13 670,161.94 668.8,167.68 667.6,165.97 666.3,156.05 664.9,158.45 663.5,155.46 662.15,155.9 660.8,150.49 659.4,145.62 658,147.56 656.65,147.08 655.3,145.96 653.9,145.33 652.5,140.76 651.6,141.82 650.7,140.21 649.8,137.71 648.9,133.01 647.95,124.63 647,124.09 646.1,124.45 645.2,120 644.25,129.48 643.3,141.25 642.4,145.94 641.5,150.21 640.15,148.74 638.8,146.59 637.4,141.78 636,144.82 634.65,141.17 633.3,136.23 631.9,137.25 630.5,138.42 629.15,138.83 627.8,140.3 626.9,142.22 626,141.92 624.6,148.26 623.2,145.09 621.85,156.19 620.5,159.84 619.43,162.36 618.37,160.88 617.3,164.26 616.15,160.08 615,152.33 613.6,155.11 612.2,141.15 611.27,144.1 610.33,144.24 609.4,146.31 608.05,154.94 606.7,158.81 605.77,157.65 604.83,149.44 603.9,140.05 602.55,151.94 601.2,158.83 600.3,164.48 599.4,169.74 598.45,159.76 597.5,151.92 596.15,142.46 594.8,145.47 593.4,139.88 592,141.57 590.65,133.27 589.3,130.36 587.9,129.44 586.5,131.56 585.15,125.53 583.8,126.09 582.4,113.06 581,111.3 579.65,104.83 578.3,100.13 577.6,89.88 576.4,83.91 575.2,80.54 573.7,72.45 572.9,77.29 572.1,78.9 570.9,78.37 569.7,83.51 568.55,76.98 567.4,72.68 566.45,70.76 565.5,69.62 564.3,74.1 563.15,71.74 562,78.59 560.8,74.53 559.6,75.72 558.4,77.22 557.2,71.76 556.05,69.3 554.9,63.64 553.7,66.67 552.5,66.33 551.35,69.33 550.2,68.52 549,62.39 547.8,61.91 546.6,57.93 545.4,59.78 544.25,58.67 543.1,59.11 541.9,54.1 540.7,51.38 539.5,56.44 538.3,55.13 537.15,57.03 536,58 534.8,56.61 533.6,55.58 532.45,57.83 531.3,59.22 530.25,54.95 529.2,54.91 528.25,57.6 527.3,58.59 526.3,88.18 525.4,143.83 524,163.28 523,162.77 522,161.47 521,161.74 520,158.25 519,158.33 518,162.72 517,162.66 516,160.12 514.7,159.12 513.4,159.38" fill="#20b2aa" fill-opacity="0.32"/>
<polyline points="513.4,124.2 514.45,122.6 515.5,119 516.57,119.05 517.63,116.16 518.7,116.2 520.05,121.39 521.4,128.4 522.9,122.1 523.95,114.44 525,105.3 525.7,85 527.3,65.7 528.6,61.7 529.55,62.62 530.5,62.5 531.65,60.52 532.8,57.8 534,56.58 535.2,56.2 536.4,54.48 537.6,52.3 539.1,49.1 540.3,50.53 541.5,51.5 542.7,52.88 543.9,53.9 545.05,53.9 546.2,55.4 547.4,54.85 548.6,54.6 549.75,53.62 550.9,53.1 552.1,52.79 553.3,51.5 554.5,53.39 555.7,53.1 556.85,55.24 558,55.4 559.2,55.9 560.4,56.2 561.6,55.13 562.8,54.3 563.95,54.34 565.1,55.4 566,54.18 566.9,55 567.9,55.91 568.9,58.9 570.1,61.57 571.3,64.4 572.5,67.55 573.7,71.5 574.85,73.99 576,77 577.2,79.46 578.4,80.2 579.25,86.31 580.1,92.3 581.45,97.03 582.8,101.5 583.73,103.99 584.67,106.59 585.6,110.7 586.95,108.92 588.3,107.9 589.23,105.9 590.17,105.52 591.1,104.3 592,104.9 592.9,103.3 593.85,107.38 594.8,110.7 596.15,115.5 597.5,121.7 598.45,127.17 599.4,130.9 600.8,133.6 601.9,130.15 603,125.4 603.95,119.47 604.9,112.5 605.8,111.09 606.7,107.9 608.05,109.88 609.4,110.7 610.33,112.57 611.27,112.84 612.2,114.4 613.6,115.91 615,115.3 615.9,117.22 616.8,117.1 618.15,114.05 619.5,112.5 620.9,113.51 622.3,113.4 623.5,119.37 624.7,124.4 625.75,121.57 626.8,118.9 627.73,117.13 628.67,115.21 629.6,113.4 630.95,118.03 632.3,120.8 633.23,122.64 634.17,125.2 635.1,126.3 636.45,125.03 637.8,124.4 638.73,125.24 639.67,125.28 640.6,124.4 641.95,128.91 643.3,133.6 644.23,134.38 645.17,135.79 646.1,135.5 647.5,137.79 648.9,139.1 650.25,135.42 651.6,131.8 653,129.79 654.4,129 655.75,128.46 657.1,128.7 658,130.69 658.9,131.8 659.85,132.42 660.8,134.5 662.15,138.15 663.5,140 664.9,135.39 666.3,131.8 667.65,124.91 669,116.2 670.4,120.38 671.8,125.4 673.15,131.46 674.5,135.5 675.9,133.2 677.3,130 678.15,128.61 679,127.2" fill="none" stroke="#808000" stroke-width="1.5" stroke-linejoin="round"/>
<polyline points="513.4,150.5 514.7,148.8 516,149 517,151.15 518,151.5 519,151.44 520,150 521,150.36 522,152 523,151.49 524,151 525.4,135 526.3,80 527.3,51.5 528.25,47.27 529.2,43.3 530.25,45.84 531.3,47.6 532.45,48.9 533.6,48.7 534.8,47.09 536,47.6 537.15,45.57 538.3,46 539.5,46.07 540.7,44.4 541.9,45.43 543.1,46.8 544.25,48.63 545.4,49.1 546.6,49.81 547.8,53.1 549,54.51 550.2,56.2 551.35,57.58 552.5,57.8 553.7,56.44 554.9,56.5 556.05,59.86 557.2,60.9 558.4,64.74 559.6,66.5 560.8,66.43 562,68.8 563.15,64.02 564.3,61.7 565.5,58.1 566.45,60.96 567.4,63.6 568.55,69.49 569.7,73.1 570.9,69.24 572.1,66 572.9,64.06 573.7,63.6 575.2,71.5 576.4,75.25 577.6,79.4 578.3,88.7 579.65,92.98 581,99.7 582.4,105.38 583.8,112.5 585.15,113.74 586.5,115.3 587.9,117.14 589.3,119 590.65,121.01 592,124.4 593.4,126 594.8,129 596.15,132.87 597.5,138.2 598.45,145.44 599.4,152.9 600.3,148.7 601.2,145.6 602.55,137.01 603.9,130.9 604.83,136.04 605.77,139.58 606.7,143.7 608.05,139.47 609.4,134.5 610.33,131.85 611.27,132.11 612.2,129 613.6,135.44 615,140 616.15,145.46 617.3,152.9 618.37,149.4 619.43,147.34 620.5,143.7 621.85,139.65 623.2,134.5 624.6,133.83 626,130.9 626.9,126.1 627.8,121.7 629.15,124.86 630.5,126.3 631.9,124.89 633.3,122.6 634.65,124.84 636,128.1 637.4,131.08 638.8,133.6 640.15,135.04 641.5,134.5 642.4,130.35 643.3,124.4 644.25,117.56 645.2,110.7 646.1,110.03 647,108.9 647.95,111.34 648.9,116.2 649.8,121.03 650.7,127.2 651.6,129.37 652.5,130 653.9,130.23 655.3,130.9 656.65,131.4 658,133.6 659.4,135.13 660.8,136.4 662.15,139.23 663.5,141 664.9,143.75 666.3,145.6 667.6,153.1 668.8,149.92 670,147.4 671.35,148.14 672.7,149.2 674.1,146.47 675.5,143.7 676.85,146.27 678.2,147.4 679,146" fill="none" stroke="#22aea6" stroke-width="1.5" stroke-linejoin="round"/>
</g>
<line x1="513.3" y1="141.6" x2="679" y2="141.6" stroke="#999999" stroke-width="1.2" stroke-dasharray="5.5 3"/>
<line x1="513.3" y1="20.9" x2="513.3" y2="153.1" stroke="#333333" stroke-width="0.9"/>
<line x1="513.3" y1="153.1" x2="679" y2="153.1" stroke="#333333" stroke-width="0.9"/>
<line x1="509.9" y1="141.6" x2="513.3" y2="141.6" stroke="#333333" stroke-width="0.9"/>
<text x="485.61" y="144.65" font-size="7.98" textLength="12.09" lengthAdjust="spacingAndGlyphs" fill="#000" style="stroke-width:0.1px">0.5</text>
<line x1="509.9" y1="119.6" x2="513.3" y2="119.6" stroke="#333333" stroke-width="0.9"/>
<text x="485.61" y="122.65" font-size="7.98" textLength="12.09" lengthAdjust="spacingAndGlyphs" fill="#000" style="stroke-width:0.1px">0.6</text>
<line x1="509.9" y1="97.6" x2="513.3" y2="97.6" stroke="#333333" stroke-width="0.9"/>
<text x="485.61" y="100.65" font-size="7.98" textLength="12.09" lengthAdjust="spacingAndGlyphs" fill="#000" style="stroke-width:0.1px">0.7</text>
<line x1="509.9" y1="75.6" x2="513.3" y2="75.6" stroke="#333333" stroke-width="0.9"/>
<text x="485.61" y="78.65" font-size="7.98" textLength="12.09" lengthAdjust="spacingAndGlyphs" fill="#000" style="stroke-width:0.1px">0.8</text>
<line x1="509.9" y1="53.6" x2="513.3" y2="53.6" stroke="#333333" stroke-width="0.9"/>
<text x="485.61" y="56.65" font-size="7.98" textLength="12.09" lengthAdjust="spacingAndGlyphs" fill="#000" style="stroke-width:0.1px">0.9</text>
<line x1="509.9" y1="31.6" x2="513.3" y2="31.6" stroke="#333333" stroke-width="0.9"/>
<text x="485.61" y="34.65" font-size="7.98" textLength="12.09" lengthAdjust="spacingAndGlyphs" fill="#000" style="stroke-width:0.1px">1.0</text>
<line x1="524.4" y1="153.1" x2="524.4" y2="156.5" stroke="#333333" stroke-width="0.9"/>
<text x="521.98" y="167.9" font-size="7.98" textLength="4.84" lengthAdjust="spacingAndGlyphs" fill="#000" style="stroke-width:0.1px">0</text>
<line x1="572.03" y1="153.1" x2="572.03" y2="156.5" stroke="#333333" stroke-width="0.9"/>
<text x="569.62" y="167.9" font-size="7.98" textLength="4.84" lengthAdjust="spacingAndGlyphs" fill="#000" style="stroke-width:0.1px">5</text>
<line x1="619.67" y1="153.1" x2="619.67" y2="156.5" stroke="#333333" stroke-width="0.9"/>
<text x="614.83" y="167.9" font-size="7.98" textLength="9.67" lengthAdjust="spacingAndGlyphs" fill="#000" style="stroke-width:0.1px">10</text>
<line x1="667.3" y1="153.1" x2="667.3" y2="156.5" stroke="#333333" stroke-width="0.9"/>
<text x="662.47" y="167.9" font-size="7.98" textLength="9.67" lengthAdjust="spacingAndGlyphs" fill="#000" style="stroke-width:0.1px">15</text>
<text x="522" y="180.5" font-size="11.13" textLength="23.95" lengthAdjust="spacingAndGlyphs" fill="#000">time</text>
<text x="549.32" y="180.5" font-size="11.13" textLength="24.9" lengthAdjust="spacingAndGlyphs" fill="#000">from</text>
<text x="577.59" y="180.5" font-size="11.13" textLength="51.08" lengthAdjust="spacingAndGlyphs" fill="#000">reference</text>
<text x="632.04" y="180.5" font-size="11.13" textLength="20.9" lengthAdjust="spacingAndGlyphs" fill="#000">trial</text>
<text x="656.31" y="180.5" font-size="11.13" textLength="13.79" lengthAdjust="spacingAndGlyphs" fill="#000">[s]</text>
<g transform="translate(479,86.5) rotate(-90)">
<text x="-47.44" y="0" font-size="11.13" textLength="43.69" lengthAdjust="spacingAndGlyphs">decision</text>
<text x="-0.38" y="0" font-size="11.13" textLength="47.82" lengthAdjust="spacingAndGlyphs">accuracy</text>
</g>
<text transform="translate(476,13.7) scale(1,1.06)" font-size="15.12" font-weight="bold" stroke="#000" stroke-width="0.3">c</text>
<line x1="593.8" y1="34.1" x2="606.1" y2="34.1" stroke="#34bab2" stroke-width="2.0"/>
<line x1="593.8" y1="42.4" x2="606.1" y2="42.4" stroke="#808000" stroke-width="1.5"/>
<text x="607.3" y="36.9" font-size="7.98" textLength="22.15" lengthAdjust="spacingAndGlyphs" fill="#000" style="stroke-width:0.1px">visual</text>
<text x="631.87" y="36.9" font-size="7.98" textLength="28.78" lengthAdjust="spacingAndGlyphs" fill="#000" style="stroke-width:0.1px">context</text>
<text x="607.3" y="45.3" font-size="7.98" textLength="31.66" lengthAdjust="spacingAndGlyphs" fill="#000" style="stroke-width:0.1px">auditory</text>
<text x="641.38" y="45.3" font-size="7.98" textLength="28.78" lengthAdjust="spacingAndGlyphs" fill="#000" style="stroke-width:0.1px">context</text>
<circle cx="91" cy="274.9" r="1.8" fill="#800080"/>
<circle cx="106.8" cy="283.6" r="1.8" fill="#800080"/>
<circle cx="108.3" cy="287.5" r="1.8" fill="#800080"/>
<circle cx="102.8" cy="288.3" r="1.8" fill="#800080"/>
<circle cx="107.6" cy="291.5" r="1.8" fill="#800080"/>
<circle cx="110.2" cy="293" r="1.8" fill="#800080"/>
<circle cx="110.2" cy="296.2" r="1.8" fill="#800080"/>
<circle cx="98.9" cy="302.5" r="1.8" fill="#800080"/>
<circle cx="110.7" cy="302.5" r="1.8" fill="#800080"/>
<circle cx="118.3" cy="301.4" r="1.8" fill="#800080"/>
<circle cx="115.9" cy="303.6" r="1.8" fill="#800080"/>
<circle cx="107.3" cy="291.3" r="1.8" fill="#800080"/>
<circle cx="110.6" cy="302.3" r="1.8" fill="#800080"/>
<circle cx="108.1" cy="306.5" r="1.8" fill="#800080"/>
<circle cx="95.7" cy="307.3" r="1.8" fill="#800080"/>
<circle cx="98.3" cy="310.2" r="1.8" fill="#800080"/>
<circle cx="102.3" cy="312.5" r="1.8" fill="#800080"/>
<circle cx="122.4" cy="308.1" r="1.8" fill="#800080"/>
<circle cx="129.8" cy="307.6" r="1.8" fill="#800080"/>
<circle cx="87.3" cy="314.7" r="1.8" fill="#800080"/>
<circle cx="137.4" cy="316" r="1.8" fill="#800080"/>
<circle cx="105" cy="322.8" r="1.8" fill="#800080"/>
<circle cx="111.4" cy="328.6" r="1.8" fill="#800080"/>
<circle cx="123.9" cy="332.2" r="1.8" fill="#800080"/>
<circle cx="143" cy="272.1" r="1.8" fill="#ff8c00"/>
<circle cx="158.7" cy="272.6" r="1.8" fill="#ff8c00"/>
<circle cx="148.2" cy="277.6" r="1.8" fill="#ff8c00"/>
<circle cx="154" cy="280.1" r="1.8" fill="#ff8c00"/>
<circle cx="140.2" cy="291.9" r="1.8" fill="#ff8c00"/>
<circle cx="127.2" cy="295.1" r="1.8" fill="#ff8c00"/>
<circle cx="137" cy="301.2" r="1.8" fill="#ff8c00"/>
<circle cx="144.3" cy="300.9" r="1.8" fill="#ff8c00"/>
<circle cx="159.8" cy="300.7" r="1.8" fill="#ff8c00"/>
<circle cx="137.7" cy="305.7" r="1.8" fill="#ff8c00"/>
<circle cx="140.6" cy="314.9" r="1.8" fill="#ff8c00"/>
<circle cx="133" cy="336.5" r="1.8" fill="#ff8c00"/>
<circle cx="141.2" cy="336.9" r="1.8" fill="#ff8c00"/>
<circle cx="166.6" cy="277.3" r="1.8" fill="#ff8c00"/>
<circle cx="181.9" cy="280.6" r="1.8" fill="#ff8c00"/>
<circle cx="167.9" cy="284.6" r="1.8" fill="#ff8c00"/>
<circle cx="168.5" cy="296.2" r="1.8" fill="#ff8c00"/>
<circle cx="165" cy="304.2" r="1.8" fill="#ff8c00"/>
<circle cx="169.7" cy="308.6" r="1.8" fill="#ff8c00"/>
<circle cx="152.3" cy="307.5" r="1.8" fill="#ff8c00"/>
<circle cx="151.9" cy="310.8" r="1.8" fill="#ff8c00"/>
<circle cx="151.9" cy="314.3" r="1.8" fill="#ff8c00"/>
<circle cx="140.9" cy="314.9" r="1.8" fill="#ff8c00"/>
<circle cx="165" cy="324.4" r="1.8" fill="#ff8c00"/>
<circle cx="159.8" cy="327.2" r="1.8" fill="#ff8c00"/>
<circle cx="176.7" cy="321.9" r="1.8" fill="#ff8c00"/>
<circle cx="181.3" cy="320.4" r="1.8" fill="#ff8c00"/>
<circle cx="140.9" cy="336.9" r="1.8" fill="#ff8c00"/>
<circle cx="102.5" cy="285.5" r="1.8" fill="#008b8b"/>
<circle cx="104.6" cy="289.4" r="1.8" fill="#008b8b"/>
<circle cx="130.4" cy="252.1" r="1.8" fill="#008b8b"/>
<circle cx="124.4" cy="260.4" r="1.8" fill="#008b8b"/>
<circle cx="128.5" cy="263.9" r="1.8" fill="#008b8b"/>
<circle cx="118.6" cy="264.4" r="1.8" fill="#008b8b"/>
<circle cx="121.7" cy="268.6" r="1.8" fill="#008b8b"/>
<circle cx="129.6" cy="269.4" r="1.8" fill="#008b8b"/>
<circle cx="144.3" cy="260.3" r="1.8" fill="#008b8b"/>
<circle cx="148" cy="263.4" r="1.8" fill="#008b8b"/>
<circle cx="108.7" cy="263.6" r="1.8" fill="#008b8b"/>
<circle cx="98.1" cy="267.4" r="1.8" fill="#008b8b"/>
<circle cx="106.5" cy="267" r="1.8" fill="#008b8b"/>
<circle cx="107.1" cy="269.4" r="1.8" fill="#008b8b"/>
<circle cx="89.9" cy="269.4" r="1.8" fill="#008b8b"/>
<circle cx="91" cy="272.1" r="1.8" fill="#008b8b"/>
<circle cx="98.6" cy="273.7" r="1.8" fill="#008b8b"/>
<circle cx="106.3" cy="273.3" r="1.8" fill="#008b8b"/>
<circle cx="111.5" cy="274.4" r="1.8" fill="#008b8b"/>
<circle cx="110.7" cy="276.5" r="1.8" fill="#008b8b"/>
<circle cx="109.9" cy="277.3" r="1.8" fill="#008b8b"/>
<circle cx="102.8" cy="285.9" r="1.8" fill="#008b8b"/>
<circle cx="104.4" cy="284.4" r="1.8" fill="#008b8b"/>
<circle cx="109.6" cy="284.7" r="1.8" fill="#008b8b"/>
<circle cx="103.6" cy="287.5" r="1.8" fill="#008b8b"/>
<circle cx="104.4" cy="289.6" r="1.8" fill="#008b8b"/>
<circle cx="108.3" cy="293" r="1.8" fill="#008b8b"/>
<circle cx="116.5" cy="300.4" r="1.8" fill="#008b8b"/>
<circle cx="185.7" cy="231.9" r="1.8" fill="#ff0000"/>
<circle cx="166.6" cy="242.9" r="1.8" fill="#ff0000"/>
<circle cx="173.6" cy="242.9" r="1.8" fill="#ff0000"/>
<circle cx="188.5" cy="242.9" r="1.8" fill="#ff0000"/>
<circle cx="207.9" cy="241.5" r="1.8" fill="#ff0000"/>
<circle cx="183.5" cy="246.6" r="1.8" fill="#ff0000"/>
<circle cx="180.8" cy="248.1" r="1.8" fill="#ff0000"/>
<circle cx="192.7" cy="249" r="1.8" fill="#ff0000"/>
<circle cx="176.2" cy="253.4" r="1.8" fill="#ff0000"/>
<circle cx="170.8" cy="256.7" r="1.8" fill="#ff0000"/>
<circle cx="174" cy="258.6" r="1.8" fill="#ff0000"/>
<circle cx="190.5" cy="256.4" r="1.8" fill="#ff0000"/>
<circle cx="191.8" cy="257.3" r="1.8" fill="#ff0000"/>
<circle cx="196.2" cy="260.9" r="1.8" fill="#ff0000"/>
<circle cx="169.4" cy="262.2" r="1.8" fill="#ff0000"/>
<circle cx="183.7" cy="263.1" r="1.8" fill="#ff0000"/>
<circle cx="164.8" cy="265.9" r="1.8" fill="#ff0000"/>
<circle cx="178.9" cy="272" r="1.8" fill="#ff0000"/>
<circle cx="177.1" cy="273.6" r="1.8" fill="#ff0000"/>
<circle cx="168.5" cy="276.5" r="1.8" fill="#ff0000"/>
<circle cx="220.8" cy="278.7" r="1.8" fill="#ff0000"/>
<circle cx="193.6" cy="287.4" r="1.8" fill="#ff0000"/>
<line x1="66.5" y1="343.2" x2="91.2" y2="343.2" stroke="#000080" stroke-width="3.0" stroke-linecap="round"/>
<line x1="66.5" y1="343.2" x2="70.1" y2="324" stroke="#006400" stroke-width="3.0" stroke-linecap="round"/>
<line x1="57.6" y1="218.8" x2="57.6" y2="349.9" stroke="#333333" stroke-width="0.9"/>
<line x1="57.6" y1="349.9" x2="222.9" y2="349.9" stroke="#333333" stroke-width="0.9"/>
<line x1="54.2" y1="236.3" x2="57.6" y2="236.3" stroke="#333333" stroke-width="0.9"/>
<text x="30.41" y="239.35" font-size="7.98" textLength="12.09" lengthAdjust="spacingAndGlyphs" fill="#000" style="stroke-width:0.1px">0.2</text>
<line x1="54.2" y1="260.5" x2="57.6" y2="260.5" stroke="#333333" stroke-width="0.9"/>
<text x="30.41" y="263.55" font-size="7.98" textLength="12.09" lengthAdjust="spacingAndGlyphs" fill="#000" style="stroke-width:0.1px">0.1</text>
<line x1="54.2" y1="284.7" x2="57.6" y2="284.7" stroke="#333333" stroke-width="0.9"/>
<text x="30.41" y="287.75" font-size="7.98" textLength="12.09" lengthAdjust="spacingAndGlyphs" fill="#000" style="stroke-width:0.1px">0.0</text>
<line x1="54.2" y1="308.9" x2="57.6" y2="308.9" stroke="#333333" stroke-width="0.9"/>
<text x="24.05" y="311.95" font-size="7.98" textLength="18.45" lengthAdjust="spacingAndGlyphs" fill="#000" style="stroke-width:0.1px">−0.1</text>
<line x1="54.2" y1="333.1" x2="57.6" y2="333.1" stroke="#333333" stroke-width="0.9"/>
<text x="24.05" y="336.15" font-size="7.98" textLength="18.45" lengthAdjust="spacingAndGlyphs" fill="#000" style="stroke-width:0.1px">−0.2</text>
<line x1="78.8" y1="349.9" x2="78.8" y2="353.3" stroke="#333333" stroke-width="0.9"/>
<text x="69.57" y="365.8" font-size="7.98" textLength="18.45" lengthAdjust="spacingAndGlyphs" fill="#000" style="stroke-width:0.1px">−0.2</text>
<line x1="109.45" y1="349.9" x2="109.45" y2="353.3" stroke="#333333" stroke-width="0.9"/>
<text x="100.22" y="365.8" font-size="7.98" textLength="18.45" lengthAdjust="spacingAndGlyphs" fill="#000" style="stroke-width:0.1px">−0.1</text>
<line x1="140.1" y1="349.9" x2="140.1" y2="353.3" stroke="#333333" stroke-width="0.9"/>
<text x="134.06" y="365.8" font-size="7.98" textLength="12.09" lengthAdjust="spacingAndGlyphs" fill="#000" style="stroke-width:0.1px">0.0</text>
<line x1="170.75" y1="349.9" x2="170.75" y2="353.3" stroke="#333333" stroke-width="0.9"/>
<text x="164.71" y="365.8" font-size="7.98" textLength="12.09" lengthAdjust="spacingAndGlyphs" fill="#000" style="stroke-width:0.1px">0.1</text>
<line x1="201.4" y1="349.9" x2="201.4" y2="353.3" stroke="#333333" stroke-width="0.9"/>
<text x="195.36" y="365.8" font-size="7.98" textLength="12.09" lengthAdjust="spacingAndGlyphs" fill="#000" style="stroke-width:0.1px">0.2</text>
<text x="115.16" y="378.5" font-size="11.13" textLength="30.9" lengthAdjust="spacingAndGlyphs" fill="#000">visual</text>
<text x="149.43" y="378.5" font-size="11.13" textLength="15.41" lengthAdjust="spacingAndGlyphs" fill="#000">DV</text>
<g transform="translate(8,284.4) rotate(-90)">
<text x="-31.47" y="0" font-size="11.13" textLength="44.16" lengthAdjust="spacingAndGlyphs">auditory</text>
<text x="16.06" y="0" font-size="11.13" textLength="15.41" lengthAdjust="spacingAndGlyphs">DV</text>
</g>
<g transform="translate(18.9,284.6) rotate(-90)">
<text x="-61.19" y="0" font-size="11.13" textLength="61.71" lengthAdjust="spacingAndGlyphs">(orthogonal</text>
<text x="3.89" y="0" font-size="11.13" textLength="57.31" lengthAdjust="spacingAndGlyphs">projection)</text>
</g>
<text transform="translate(20.3,211.5) scale(1,1.06)" font-size="15.12" font-weight="bold" stroke="#000" stroke-width="0.3">d</text>
<text x="106.14" y="222.7" font-size="5.99" textLength="16.62" lengthAdjust="spacingAndGlyphs" fill="#000" style="stroke-width:0.05px">visual</text>
<text x="102.49" y="228.9" font-size="5.99" textLength="7.11" lengthAdjust="spacingAndGlyphs" fill="#000" style="stroke-width:0.05px">go</text>
<text x="111.41" y="228.9" font-size="5.99" textLength="14.21" lengthAdjust="spacingAndGlyphs" fill="#000" style="stroke-width:0.05px">nogo</text>
<text x="62.14" y="238.4" font-size="5.99" textLength="23.75" lengthAdjust="spacingAndGlyphs" fill="#000" style="stroke-width:0.05px">auditory</text>
<text x="87.69" y="238.4" font-size="5.99" textLength="14.21" lengthAdjust="spacingAndGlyphs" fill="#000" style="stroke-width:0.05px">nogo</text>
<text x="94.79" y="244.8" font-size="5.99" textLength="7.11" lengthAdjust="spacingAndGlyphs" fill="#000" style="stroke-width:0.05px">go</text>
<circle cx="109.4" cy="236.2" r="1.85" fill="#008b8b"/>
<circle cx="118.6" cy="236.2" r="1.85" fill="#ff0000"/>
<circle cx="109.4" cy="243.2" r="1.85" fill="#800080"/>
<circle cx="118.6" cy="243.2" r="1.85" fill="#ff8c00"/>
<circle cx="367.3" cy="306.5" r="2.4" fill="#008b8b"/>
<circle cx="377.4" cy="306.5" r="2.4" fill="#008b8b"/>
<circle cx="387.6" cy="306.5" r="2.4" fill="#008b8b"/>
<line x1="374.5" y1="219" x2="374.5" y2="350.5" stroke="#8a8a8a" stroke-width="0.9" stroke-dasharray="5.6 2.8"/>
<line x1="291.4" y1="350.5" x2="457.2" y2="350.5" stroke="#333333" stroke-width="0.9"/>
<line x1="291.4" y1="350.5" x2="291.4" y2="353.9" stroke="#333333" stroke-width="0.9"/>
<text x="288.98" y="365.9" font-size="7.98" textLength="4.84" lengthAdjust="spacingAndGlyphs" fill="#000" style="stroke-width:0.1px">0</text>
<line x1="318.95" y1="350.5" x2="318.95" y2="353.9" stroke="#333333" stroke-width="0.9"/>
<text x="314.11" y="365.9" font-size="7.98" textLength="9.67" lengthAdjust="spacingAndGlyphs" fill="#000" style="stroke-width:0.1px">30</text>
<line x1="346.5" y1="350.5" x2="346.5" y2="353.9" stroke="#333333" stroke-width="0.9"/>
<text x="341.66" y="365.9" font-size="7.98" textLength="9.67" lengthAdjust="spacingAndGlyphs" fill="#000" style="stroke-width:0.1px">60</text>
<line x1="374.05" y1="350.5" x2="374.05" y2="353.9" stroke="#333333" stroke-width="0.9"/>
<text x="369.21" y="365.9" font-size="7.98" textLength="9.67" lengthAdjust="spacingAndGlyphs" fill="#000" style="stroke-width:0.1px">90</text>
<line x1="401.6" y1="350.5" x2="401.6" y2="353.9" stroke="#333333" stroke-width="0.9"/>
<text x="394.34" y="365.9" font-size="7.98" textLength="14.51" lengthAdjust="spacingAndGlyphs" fill="#000" style="stroke-width:0.1px">120</text>
<line x1="429.14" y1="350.5" x2="429.14" y2="353.9" stroke="#333333" stroke-width="0.9"/>
<text x="421.89" y="365.9" font-size="7.98" textLength="14.51" lengthAdjust="spacingAndGlyphs" fill="#000" style="stroke-width:0.1px">150</text>
<line x1="456.69" y1="350.5" x2="456.69" y2="353.9" stroke="#333333" stroke-width="0.9"/>
<text x="449.44" y="365.9" font-size="7.98" textLength="14.51" lengthAdjust="spacingAndGlyphs" fill="#000" style="stroke-width:0.1px">180</text>
<text x="314.57" y="378.2" font-size="11.13" textLength="29.41" lengthAdjust="spacingAndGlyphs" fill="#000">angle</text>
<text x="347.35" y="378.2" font-size="11.13" textLength="45.84" lengthAdjust="spacingAndGlyphs" fill="#000">between</text>
<text x="396.55" y="378.2" font-size="11.13" textLength="20.94" lengthAdjust="spacingAndGlyphs" fill="#000">DVs</text>
<text x="420.86" y="378.2" font-size="11.13" textLength="13.57" lengthAdjust="spacingAndGlyphs" fill="#000">[°]</text>
<circle cx="304.6" cy="231.8" r="3.8" fill="#008b8b"/>
<text x="311.9" y="234.9" font-size="8.14" textLength="22.59" lengthAdjust="spacingAndGlyphs" fill="#000" style="stroke-width:0.1px">visual</text>
<text x="336.96" y="234.9" font-size="8.14" textLength="2.8" lengthAdjust="spacingAndGlyphs" fill="#000" style="stroke-width:0.1px">-</text>
<text x="342.22" y="234.9" font-size="8.14" textLength="34.75" lengthAdjust="spacingAndGlyphs" fill="#000" style="stroke-width:0.1px">auditory,</text>
<text x="379.43" y="234.9" font-size="8.14" textLength="28.67" lengthAdjust="spacingAndGlyphs" fill="#000" style="stroke-width:0.1px">p=0.51</text>
<text transform="translate(254.5,211.8) scale(1,1.06)" font-size="15.12" font-weight="bold" stroke="#000" stroke-width="0.3">e</text>
<circle cx="585" cy="297.9" r="2.35" fill="#800080"/>
<circle cx="589.3" cy="297.9" r="2.35" fill="#800080"/>
<circle cx="591.4" cy="297.9" r="2.35" fill="#800080"/>
<circle cx="597.7" cy="297.9" r="2.35" fill="#800080"/>
<circle cx="572.1" cy="306.5" r="2.35" fill="#808000"/>
<circle cx="601.2" cy="306.5" r="2.35" fill="#808000"/>
<circle cx="603.4" cy="306.5" r="2.35" fill="#808000"/>
<circle cx="578.6" cy="315.4" r="2.35" fill="#b8860b"/>
<circle cx="581" cy="315.4" r="2.35" fill="#b8860b"/>
<circle cx="593.5" cy="315.4" r="2.35" fill="#b8860b"/>
<circle cx="598.5" cy="315.4" r="2.35" fill="#b8860b"/>
<line x1="595.5" y1="219" x2="595.5" y2="350.5" stroke="#8a8a8a" stroke-width="0.9" stroke-dasharray="5.6 2.8"/>
<line x1="513" y1="350.5" x2="678.2" y2="350.5" stroke="#333333" stroke-width="0.9"/>
<line x1="513" y1="350.5" x2="513" y2="353.9" stroke="#333333" stroke-width="0.9"/>
<text x="510.58" y="365.9" font-size="7.98" textLength="4.84" lengthAdjust="spacingAndGlyphs" fill="#000" style="stroke-width:0.1px">0</text>
<line x1="540.53" y1="350.5" x2="540.53" y2="353.9" stroke="#333333" stroke-width="0.9"/>
<text x="535.7" y="365.9" font-size="7.98" textLength="9.67" lengthAdjust="spacingAndGlyphs" fill="#000" style="stroke-width:0.1px">30</text>
<line x1="568.07" y1="350.5" x2="568.07" y2="353.9" stroke="#333333" stroke-width="0.9"/>
<text x="563.23" y="365.9" font-size="7.98" textLength="9.67" lengthAdjust="spacingAndGlyphs" fill="#000" style="stroke-width:0.1px">60</text>
<line x1="595.6" y1="350.5" x2="595.6" y2="353.9" stroke="#333333" stroke-width="0.9"/>
<text x="590.77" y="365.9" font-size="7.98" textLength="9.67" lengthAdjust="spacingAndGlyphs" fill="#000" style="stroke-width:0.1px">90</text>
<line x1="623.14" y1="350.5" x2="623.14" y2="353.9" stroke="#333333" stroke-width="0.9"/>
<text x="615.88" y="365.9" font-size="7.98" textLength="14.51" lengthAdjust="spacingAndGlyphs" fill="#000" style="stroke-width:0.1px">120</text>
<line x1="650.67" y1="350.5" x2="650.67" y2="353.9" stroke="#333333" stroke-width="0.9"/>
<text x="643.42" y="365.9" font-size="7.98" textLength="14.51" lengthAdjust="spacingAndGlyphs" fill="#000" style="stroke-width:0.1px">150</text>
<line x1="678.2" y1="350.5" x2="678.2" y2="353.9" stroke="#333333" stroke-width="0.9"/>
<text x="670.95" y="365.9" font-size="7.98" textLength="14.51" lengthAdjust="spacingAndGlyphs" fill="#000" style="stroke-width:0.1px">180</text>
<text x="536.07" y="378.5" font-size="11.13" textLength="29.41" lengthAdjust="spacingAndGlyphs" fill="#000">angle</text>
<text x="568.85" y="378.5" font-size="11.13" textLength="45.84" lengthAdjust="spacingAndGlyphs" fill="#000">between</text>
<text x="618.05" y="378.5" font-size="11.13" textLength="20.94" lengthAdjust="spacingAndGlyphs" fill="#000">DVs</text>
<text x="642.36" y="378.5" font-size="11.13" textLength="13.57" lengthAdjust="spacingAndGlyphs" fill="#000">[°]</text>
<circle cx="526" cy="231.9" r="4.0" fill="#800080"/>
<circle cx="526" cy="240.5" r="4.0" fill="#808000"/>
<circle cx="526" cy="249" r="4.0" fill="#b8860b"/>
<text x="533.1" y="234.6" font-size="8.14" textLength="29.35" lengthAdjust="spacingAndGlyphs" fill="#000" style="stroke-width:0.1px">context</text>
<text x="564.91" y="234.6" font-size="8.14" textLength="2.8" lengthAdjust="spacingAndGlyphs" fill="#000" style="stroke-width:0.1px">-</text>
<text x="570.17" y="234.6" font-size="8.14" textLength="25.06" lengthAdjust="spacingAndGlyphs" fill="#000" style="stroke-width:0.1px">visual,</text>
<text x="597.69" y="234.6" font-size="8.14" textLength="28.67" lengthAdjust="spacingAndGlyphs" fill="#000" style="stroke-width:0.1px">p=0.16</text>
<text x="533.1" y="243.1" font-size="8.14" textLength="29.35" lengthAdjust="spacingAndGlyphs" fill="#000" style="stroke-width:0.1px">context</text>
<text x="564.91" y="243.1" font-size="8.14" textLength="2.8" lengthAdjust="spacingAndGlyphs" fill="#000" style="stroke-width:0.1px">-</text>
<text x="570.17" y="243.1" font-size="8.14" textLength="34.75" lengthAdjust="spacingAndGlyphs" fill="#000" style="stroke-width:0.1px">auditory,</text>
<text x="607.38" y="243.1" font-size="8.14" textLength="28.67" lengthAdjust="spacingAndGlyphs" fill="#000" style="stroke-width:0.1px">p=0.91</text>
<text x="533.1" y="251.8" font-size="8.14" textLength="29.35" lengthAdjust="spacingAndGlyphs" fill="#000" style="stroke-width:0.1px">context</text>
<text x="564.91" y="251.8" font-size="8.14" textLength="2.8" lengthAdjust="spacingAndGlyphs" fill="#000" style="stroke-width:0.1px">-</text>
<text x="570.17" y="251.8" font-size="8.14" textLength="34.41" lengthAdjust="spacingAndGlyphs" fill="#000" style="stroke-width:0.1px">decision,</text>
<text x="607.04" y="251.8" font-size="8.14" textLength="28.67" lengthAdjust="spacingAndGlyphs" fill="#000" style="stroke-width:0.1px">p=0.21</text>
<text transform="translate(478,212.1) scale(1,1.06)" font-size="15.12" font-weight="bold" stroke="#000" stroke-width="0.3">f</text>
</svg>
</body></html>
